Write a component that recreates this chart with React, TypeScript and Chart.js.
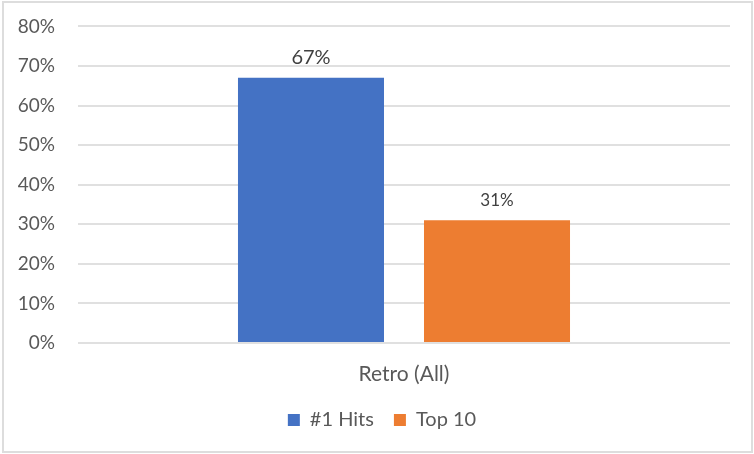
import React, { useEffect, useRef } from 'react';
import { Chart, registerables } from 'chart.js';

Chart.register(...registerables);

const categories = ['Retro (All)'];
const seriesNames = ['#1 Hits', 'Top 10'];
const hitsValues = [67];
const top10Values = [31];
const seriesColors = ['#4472C4', '#ED7D31'];
const labelFontSizes = [20, 17];
const yMax = 80;
const yStep = 10;

const FONT = 'Lato, "Open Sans", sans-serif';
const TEXT = '#595959';

const dataLabelPlugin = {
  id: 'barValueLabels',
  afterDatasetsDraw(chart: any) {
    const ctx = chart.ctx;
    chart.data.datasets.forEach((ds: any, di: number) => {
      const meta = chart.getDatasetMeta(di);
      meta.data.forEach((el: any, i: number) => {
        const v = ds.data[i];
        ctx.save();
        ctx.font = `${labelFontSizes[di]}px ${FONT}`;
        ctx.fillStyle = '#404040';
        ctx.textAlign = 'center';
        ctx.textBaseline = 'alphabetic';
        ctx.fillText(`${v}%`, el.x, el.y - 14);
        ctx.restore();
      });
    });
  },
};

export default function App() {
  const ref = useRef<HTMLCanvasElement | null>(null);
  useEffect(() => {
    document.body.style.margin = '0';
    if (!ref.current) return;
    const chart = new Chart(ref.current, {
      type: 'bar',
      data: {
        labels: categories,
        datasets: [
          { label: seriesNames[0], data: hitsValues, backgroundColor: seriesColors[0] },
          { label: seriesNames[1], data: top10Values, backgroundColor: seriesColors[1] },
        ],
      },
      options: {
        animation: false,
        responsive: false,
        devicePixelRatio: 1,
        datasets: { bar: { categoryPercentage: 0.5706, barPercentage: 0.785 } } as any,
        layout: { padding: { top: 10, right: 0, bottom: 14, left: 10 } },
        plugins: {
          tooltip: { enabled: false },
          legend: {
            position: 'bottom',
            labels: {
              boxWidth: 12,
              boxHeight: 12,
              padding: 20,
              color: TEXT,
              font: { family: FONT, size: 20 },
            },
          },
        },
        scales: {
          x: {
            grid: { display: false },
            border: { display: false },
            ticks: { color: TEXT, font: { family: FONT, size: 21 }, padding: 11 },
            afterFit: (s: any) => { s.height = 47; },
          },
          y: {
            min: 0,
            max: yMax,
            grid: { color: '#E0E0E0', lineWidth: 2, drawTicks: true, tickLength: 8, tickColor: 'rgba(0,0,0,0)' },
            border: { display: false },
            ticks: {
              stepSize: yStep,
              color: TEXT,
              padding: 15,
              font: { family: FONT, size: 19 },
              callback: (v: any) => `${v}%`,
            },
            afterFit: (s: any) => { s.width = 68; },
          },
          yRight: {
            type: 'linear',
            position: 'right',
            display: true,
            grid: { display: false, drawTicks: false },
            border: { display: false },
            ticks: { display: false },
            afterFit: (s: any) => { s.width = 24; },
          },
        },
      },
      plugins: [dataLabelPlugin],
    });
    return () => chart.destroy();
  }, []);
  return (
    <div style={{ position: 'absolute', left: 0, top: 0, width: 754, height: 454, background: '#fff' }}>
      <div style={{ position: 'absolute', left: 2, top: 1, width: 747, height: 448, border: '2px solid #DDDDDD' }} />
      <canvas ref={ref} width={754} height={454} style={{ position: 'absolute', left: 0, top: 0 }} />
    </div>
  );
}
